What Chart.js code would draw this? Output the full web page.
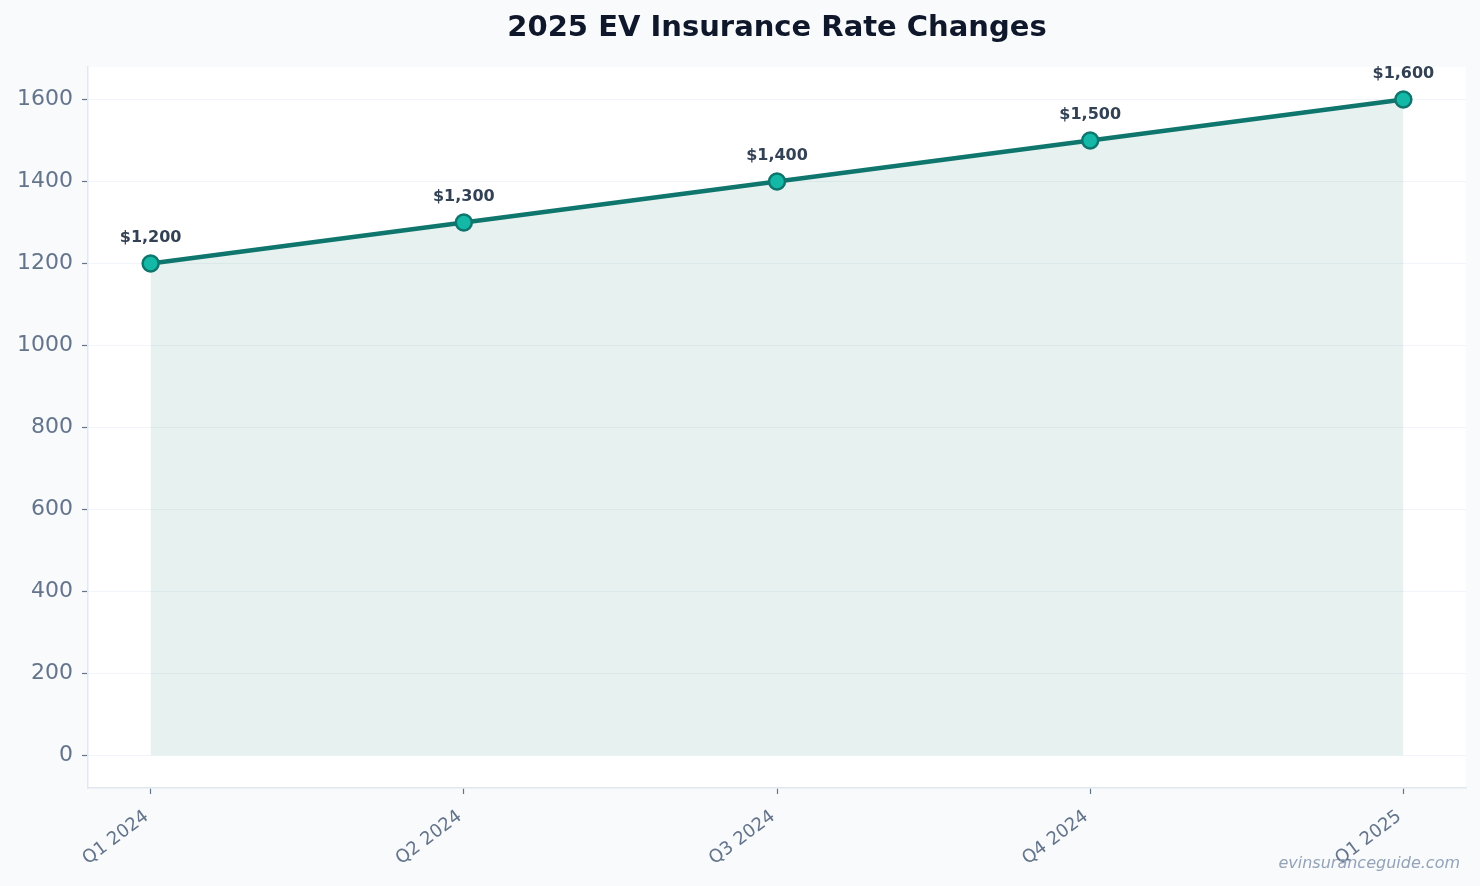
<!DOCTYPE html>
<html>
<head>
<meta charset="utf-8">
<script src="https://cdn.jsdelivr.net/npm/chart.js@4"></script>
<style>
  html, body { margin: 0; padding: 0; background: #f8fafc; }
  #wrap { width: 1480px; height: 886px; }
</style>
</head>
<body>
<div id="wrap"><canvas id="rateChart" width="1480" height="886"></canvas></div>
<script>
const quarters = ['Q1 2024', 'Q2 2024', 'Q3 2024', 'Q4 2024', 'Q1 2025'];
const premiums = [1200, 1300, 1400, 1500, 1600];
const yTicks = [0, 200, 400, 600, 800, 1000, 1200, 1400, 1600];

const baseFont = "'DejaVu Sans', sans-serif";

// page background + white plot area
const plotBg = {
  id: 'plotBg',
  beforeDraw(chart) {
    const { ctx, chartArea: a } = chart;
    ctx.save();
    ctx.fillStyle = '#f8fafc';
    ctx.fillRect(0, 0, chart.width, chart.height);
    ctx.fillStyle = '#ffffff';
    ctx.fillRect(a.left, a.top, a.right - a.left, a.bottom - a.top);
    ctx.restore();
  }
};

// "$1,200" labels above each point
const valueLabels = {
  id: 'valueLabels',
  afterDatasetsDraw(chart) {
    const ctx = chart.ctx;
    const meta = chart.getDatasetMeta(0);
    ctx.save();
    ctx.font = 'bold 16px ' + baseFont;
    ctx.fillStyle = '#334155';
    ctx.textAlign = 'center';
    ctx.textBaseline = 'middle';
    meta.data.forEach((pt, i) => {
      ctx.fillText('$' + premiums[i].toLocaleString('en-US'), pt.x, pt.y - 26);
    });
    ctx.restore();
  }
};

const watermark = {
  id: 'watermark',
  afterDraw(chart) {
    const ctx = chart.ctx;
    ctx.save();
    ctx.font = 'italic 16px ' + baseFont;
    ctx.fillStyle = '#94a3b8';
    ctx.textAlign = 'right';
    ctx.textBaseline = 'alphabetic';
    ctx.fillText('evinsuranceguide.com', chart.width - 20, 868);
    ctx.restore();
  }
};

new Chart(document.getElementById('rateChart'), {
  type: 'line',
  data: {
    datasets: [{
      label: 'Average Premium',
      data: premiums.map((v, i) => ({ x: i, y: v })),
      borderColor: '#0f766e',
      borderWidth: 4.5,
      backgroundColor: 'rgba(15, 118, 110, 0.1)',
      fill: 'origin',
      tension: 0,
      pointRadius: 8,
      pointHoverRadius: 8,
      pointBackgroundColor: '#14b8a6',
      pointBorderColor: '#0f766e',
      pointBorderWidth: 2.5
    }]
  },
  options: {
    responsive: false,
    animation: false,
    devicePixelRatio: 1,
    layout: {
      padding: { left: 0, right: 14, top: 0, bottom: 0 }
    },
    plugins: {
      legend: { display: false },
      tooltip: { enabled: false },
      title: {
        display: true,
        text: '2025 EV Insurance Rate Changes',
        fullSize: false,
        color: '#0f172a',
        font: { family: baseFont, size: 29, weight: 'bold' },
        padding: { top: 11, bottom: 21 }
      }
    },
    scales: {
      x: {
        type: 'linear',
        min: -0.2,
        max: 4.2,
        afterBuildTicks(scale) {
          scale.ticks = quarters.map((q, i) => ({ value: i }));
        },
        afterFit(scale) { scale.height = 98; },
        ticks: {
          autoSkip: false,
          minRotation: 37,
          maxRotation: 37,
          padding: 12,
          labelOffset: -4,
          color: '#64748b',
          font: { family: baseFont, size: 18 },
          callback: (v) => quarters[v]
        },
        grid: {
          drawOnChartArea: false,
          tickLength: 6,
          tickColor: '#64748b',
          tickWidth: 1.2
        },
        border: { display: true, color: '#e2e8f0', width: 1.5 }
      },
      y: {
        type: 'linear',
        min: -80,
        max: 1680,
        afterBuildTicks(scale) {
          scale.ticks = yTicks.map(v => ({ value: v }));
        },
        afterFit(scale) { scale.width = 88; },
        ticks: {
          padding: 9,
          color: '#64748b',
          font: { family: baseFont, size: 22 },
          callback: (v) => String(v)
        },
        grid: {
          color: '#f1f5f9',
          lineWidth: 1,
          tickLength: 6,
          tickColor: '#64748b',
          tickWidth: 1.2
        },
        border: { display: true, color: '#e2e8f0', width: 1.5 }
      }
    }
  },
  plugins: [plotBg, valueLabels, watermark]
});
</script>
</body>
</html>
